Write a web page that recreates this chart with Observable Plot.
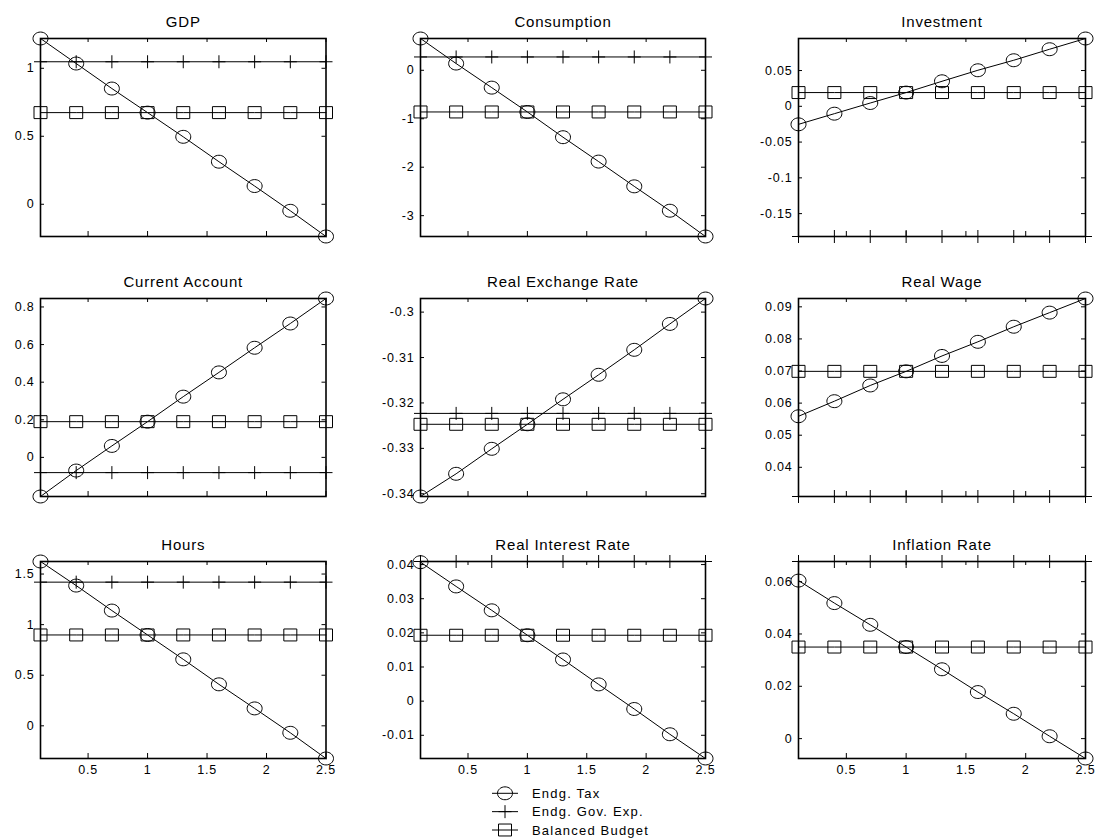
<!DOCTYPE html>
<html>
<head>
<meta charset="utf-8">
<script src="https://cdn.jsdelivr.net/npm/d3@7"></script>
<script src="https://cdn.jsdelivr.net/npm/@observablehq/plot@0.6"></script>
<style>
  body { margin: 0; background: #fff; }
  #chart { position: relative; width: 1099px; height: 840px; font-family: "Liberation Sans", Arial, sans-serif; }
  #chart svg { position: absolute; overflow: visible; }
</style>
</head>
<body>
<div id="chart"></div>
<script>
// Panel titles, in reading order (3 x 3 grid)
const titles = [
  "GDP", "Consumption", "Investment",
  "Current Account", "Real Exchange Rate", "Real Wage",
  "Hours", "Real Interest Rate", "Inflation Rate"
];

// Shared horizontal grid
const xGrid = [0.1, 0.4, 0.7, 1.0, 1.3, 1.6, 1.9, 2.2, 2.5];

// Endogenous tax rule
const endgTax = [
  [1.219, 1.035, 0.851, 0.674, 0.496, 0.313, 0.134, -0.048, -0.237],
  [0.656, 0.139, -0.358, -0.86, -1.381, -1.884, -2.395, -2.898, -3.43],
  [-0.0252, -0.0103, 0.0046, 0.0192, 0.035, 0.0504, 0.0644, 0.0798, 0.0948],
  [-0.208, -0.070, 0.061, 0.190, 0.323, 0.452, 0.583, 0.712, 0.845],
  [-0.3406, -0.3356, -0.3301, -0.3247, -0.3192, -0.3138, -0.3083, -0.3026, -0.297],
  [0.0559, 0.0606, 0.0655, 0.0699, 0.0747, 0.0791, 0.0838, 0.0882, 0.0926],
  [1.624, 1.386, 1.139, 0.898, 0.657, 0.410, 0.172, -0.069, -0.323],
  [0.0407, 0.0336, 0.0266, 0.0193, 0.0122, 0.0049, -0.0023, -0.0097, -0.0168],
  [0.0604, 0.0518, 0.0435, 0.035, 0.0265, 0.0178, 0.0095, 0.0009, -0.0076]
];

// Endogenous government expenditure rule
const endgGovExp = [
  [1.048, 1.048, 1.048, 1.048, 1.048, 1.048, 1.048, 1.048, 1.048],
  [0.275, 0.275, 0.275, 0.275, 0.275, 0.275, 0.275, 0.275, 0.275],
  [-0.182, -0.182, -0.182, -0.182, -0.182, -0.182, -0.182, -0.182, -0.182],
  [-0.081, -0.081, -0.081, -0.081, -0.081, -0.081, -0.081, -0.081, -0.081],
  [-0.3223, -0.3223, -0.3223, -0.3223, -0.3223, -0.3223, -0.3223, -0.3223, -0.3223],
  [0.0309, 0.0309, 0.0309, 0.0309, 0.0309, 0.0309, 0.0309, 0.0309, 0.0309],
  [1.42, 1.42, 1.42, 1.42, 1.42, 1.42, 1.42, 1.42, 1.42],
  [0.0409, 0.0409, 0.0409, 0.0409, 0.0409, 0.0409, 0.0409, 0.0409, 0.0409],
  [0.0677, 0.0677, 0.0677, 0.0677, 0.0677, 0.0677, 0.0677, 0.0677, 0.0677]
];

// Balanced budget rule
const balancedBudget = [
  [0.674, 0.674, 0.674, 0.674, 0.674, 0.674, 0.674, 0.674, 0.674],
  [-0.86, -0.86, -0.86, -0.86, -0.86, -0.86, -0.86, -0.86, -0.86],
  [0.0192, 0.0192, 0.0192, 0.0192, 0.0192, 0.0192, 0.0192, 0.0192, 0.0192],
  [0.190, 0.190, 0.190, 0.190, 0.190, 0.190, 0.190, 0.190, 0.190],
  [-0.3247, -0.3247, -0.3247, -0.3247, -0.3247, -0.3247, -0.3247, -0.3247, -0.3247],
  [0.0699, 0.0699, 0.0699, 0.0699, 0.0699, 0.0699, 0.0699, 0.0699, 0.0699],
  [0.898, 0.898, 0.898, 0.898, 0.898, 0.898, 0.898, 0.898, 0.898],
  [0.0193, 0.0193, 0.0193, 0.0193, 0.0193, 0.0193, 0.0193, 0.0193, 0.0193],
  [0.035, 0.035, 0.035, 0.035, 0.035, 0.035, 0.035, 0.035, 0.035]
];

// Tick values
const yTicks = [
  [0, 0.5, 1],
  [-3, -2, -1, 0],
  [-0.15, -0.1, -0.05, 0, 0.05],
  [0, 0.2, 0.4, 0.6, 0.8],
  [-0.34, -0.33, -0.32, -0.31, -0.3],
  [0.04, 0.05, 0.06, 0.07, 0.08, 0.09],
  [0, 0.5, 1, 1.5],
  [-0.01, 0, 0.01, 0.02, 0.03, 0.04],
  [0, 0.02, 0.04, 0.06]
];
const xTicks = [0.5, 1, 1.5, 2, 2.5];

const seriesNames = ["Endg. Tax", "Endg. Gov. Exp.", "Balanced Budget"];

// Outline marker shapes (size = r*r*PI, as Plot passes it)
const radius = size => Math.sqrt(size / Math.PI);
const ovalSymbol = {
  draw(ctx, size) {
    const rx = radius(size), ry = rx * 0.86, k = 0.5523;
    ctx.moveTo(rx, 0);
    ctx.bezierCurveTo(rx, ry * k, rx * k, ry, 0, ry);
    ctx.bezierCurveTo(-rx * k, ry, -rx, ry * k, -rx, 0);
    ctx.bezierCurveTo(-rx, -ry * k, -rx * k, -ry, 0, -ry);
    ctx.bezierCurveTo(rx * k, -ry, rx, -ry * k, rx, 0);
    ctx.closePath();
  }
};
const plusSymbol = {
  draw(ctx, size) {
    const r = radius(size);
    ctx.moveTo(-r, 0); ctx.lineTo(r, 0);
    ctx.moveTo(0, -r); ctx.lineTo(0, r);
  }
};
const boxSymbol = {
  draw(ctx, size) {
    const w = radius(size), h = w * 0.92;
    ctx.moveTo(-w, -h); ctx.lineTo(w, -h); ctx.lineTo(w, h); ctx.lineTo(-w, h); ctx.closePath();
  }
};
const symbols = [ovalSymbol, plusSymbol, boxSymbol];
const markerR = [7.5, 6.5, 6.5];

// Grid geometry (plot frame boxes)
const colLeft = [40, 420, 798];
const colWidth = [285.5, 285, 287];
const rowTop = [38, 298, 561];
const rowHeight = [198, 198, 197];
const mTop = 38, mLeft = 40, mRight = 22, mBottom = 30;

const fmt = d => String(d);
const chart = document.getElementById("chart");

titles.forEach((title, i) => {
  const row = Math.floor(i / 3), col = i % 3;
  const w = colWidth[col], h = rowHeight[row];
  const seriesData = [endgTax[i], endgGovExp[i], balancedBudget[i]].map(vals =>
    xGrid.map((x, j) => ({x, y: vals[j]}))
  );
  const yDomain = d3.extent([...endgTax[i], ...endgGovExp[i], ...balancedBudget[i]]);

  const marks = [
    // inward tick marks on all four sides
    Plot.tickY(yTicks[i], {y: d => d, insetRight: w - 4, stroke: "black"}),
    Plot.tickY(yTicks[i], {y: d => d, insetLeft: w - 4, stroke: "black"}),
    Plot.tickX(xTicks, {x: d => d, insetTop: h - 5, stroke: "black"}),
    Plot.tickX(xTicks, {x: d => d, insetBottom: h - 4, stroke: "black"}),
    Plot.axisY({ticks: yTicks[i], tickSize: 0, tickPadding: 6, tickFormat: fmt, label: null}),
    Plot.frame({stroke: "black", strokeWidth: 1.6})
  ];
  seriesData.forEach((data, s) => {
    marks.push(Plot.line(data, {x: "x", y: "y", stroke: "black", strokeWidth: 1}));
    marks.push(Plot.dot(data, {x: "x", y: "y", r: markerR[s], symbol: symbols[s], stroke: "black", fill: "none", strokeWidth: 1}));
  });
  marks.push(Plot.text([title], {text: d => d, frameAnchor: "top", lineAnchor: "bottom", dy: -12, fontSize: 15}));
  if (row === 2) {
    marks.push(Plot.axisX({ticks: xTicks, tickSize: 0, tickPadding: 7, tickFormat: fmt, label: null}));
  }

  const svg = Plot.plot({
    width: mLeft + w + mRight,
    height: mTop + h + mBottom,
    marginLeft: mLeft, marginRight: mRight, marginTop: mTop, marginBottom: mBottom,
    x: {domain: [0.1, 2.5], ...(row === 2 ? {} : {axis: null})},
    y: {domain: yDomain},
    style: {fontFamily: '"Liberation Sans", Arial, sans-serif', fontSize: "12.5px", color: "black", background: "transparent", overflow: "visible", letterSpacing: "0.8px"},
    marks
  });
  svg.style.left = (colLeft[col] - mLeft) + "px";
  svg.style.top = (rowTop[row] - mTop) + "px";
  chart.appendChild(svg);
});

// Legend beneath the middle column
const legend = d3.select(chart).append("svg")
  .attr("width", 220).attr("height", 60)
  .style("left", "480px").style("top", "782px")
  .style("font-family", '"Liberation Sans", Arial, sans-serif')
  .style("font-size", "13px")
  .style("letter-spacing", "1.2px");
const item = legend.selectAll("g").data(seriesNames).join("g")
  .attr("transform", (d, s) => `translate(0, ${11.3 + s * 18.35})`);
item.append("line").attr("x1", 12).attr("x2", 38).attr("stroke", "black");
item.append("path")
  .attr("transform", "translate(25,0)")
  .attr("d", (d, s) => d3.symbol(symbols[s], markerR[s] * markerR[s] * Math.PI)())
  .attr("fill", "none").attr("stroke", "black");
item.append("text").attr("x", 52).attr("dy", "0.35em").text(d => d);
</script>
</body>
</html>
